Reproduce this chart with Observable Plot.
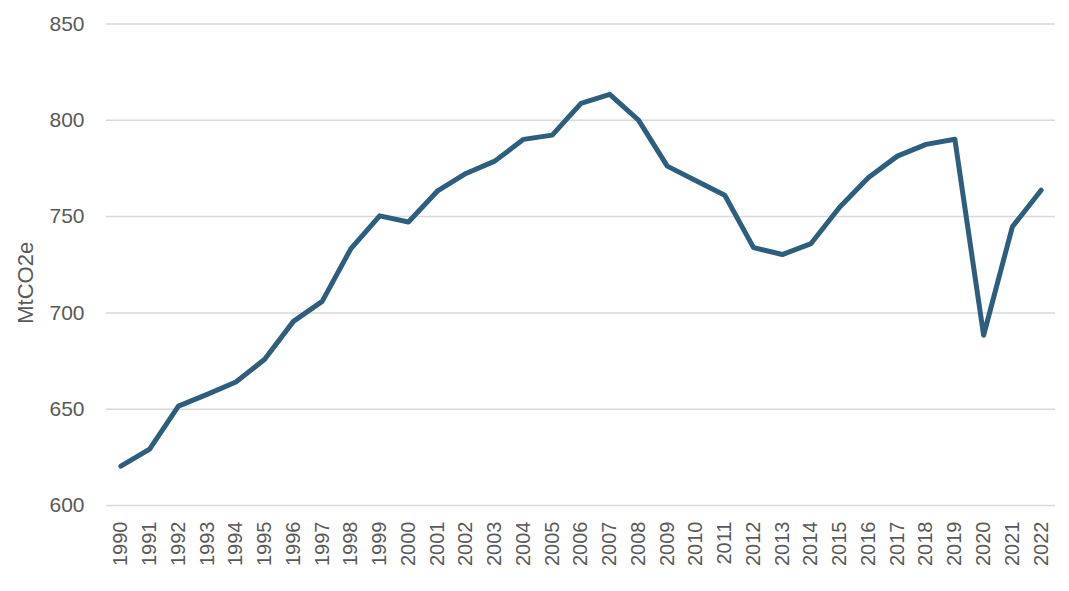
<!DOCTYPE html>
<html>
<head>
<meta charset="utf-8">
<script src="https://cdn.jsdelivr.net/npm/d3@7"></script>
<script src="https://cdn.jsdelivr.net/npm/@observablehq/plot@0.6"></script>
<style>
  html, body { margin: 0; padding: 0; background: #fff; }
  #chart svg { display: block; }
</style>
</head>
<body>
<div id="chart"></div>
<script>
const years = ["1990","1991","1992","1993","1994","1995","1996","1997","1998","1999","2000","2001","2002","2003","2004","2005","2006","2007","2008","2009","2010","2011","2012","2013","2014","2015","2016","2017","2018","2019","2020","2021","2022"];
const emissions = [620.4,629.3,651.6,657.7,664.1,675.9,695.6,706.0,733.4,750.4,747.2,763.2,772.4,778.8,790.1,792.3,808.8,813.5,800.1,776.2,768.6,761.1,733.9,730.3,736.0,755.0,770.3,781.4,787.5,790.2,688.4,744.7,763.7];
const yTicks = [600,650,700,750,800,850];
const yLabel = "MtCO2e";

const yearNums = years.map(Number);
const data = years.map((y, i) => ({year: +y, value: emissions[i]}));

const textColor = "#595959";
const chart = Plot.plot({
  width: 1069,
  height: 591,
  marginLeft: 106,
  marginRight: 14,
  marginTop: 23.5,
  marginBottom: 86,
  style: {fontFamily: "'Liberation Sans', Arial, sans-serif", fontSize: "20px", color: textColor, background: "#fff"},
  x: {type: "linear", domain: [yearNums[0] - 0.5, yearNums[yearNums.length - 1] + 0.5], label: null},
  y: {domain: [600, 850], label: null},
  marks: [
    Plot.ruleY(yTicks, {stroke: "#d9d9d9", strokeWidth: 1.5}),
    Plot.axisY({ticks: yTicks, tickSize: 0, tickPadding: 22, label: null, fill: textColor, fontSize: 21, style: {letterSpacing: "1px"}}),
    Plot.axisX({ticks: yearNums, tickFormat: d => String(d), tickSize: 0, tickPadding: 16, tickRotate: -90, label: null, fill: textColor, fontSize: 20, style: {letterSpacing: "0.6px"}}),
    Plot.text([yLabel], {frameAnchor: "left", textAnchor: "middle", text: d => d, rotate: -90, dx: -81, dy: 18, fill: textColor, fontSize: 22, style: {letterSpacing: "1.4px"}}),
    Plot.line(data, {x: "year", y: "value", stroke: "#2e5e7e", strokeWidth: 5, strokeLinecap: "round", strokeLinejoin: "round"})
  ]
});
document.getElementById("chart").appendChild(chart);
</script>
</body>
</html>
